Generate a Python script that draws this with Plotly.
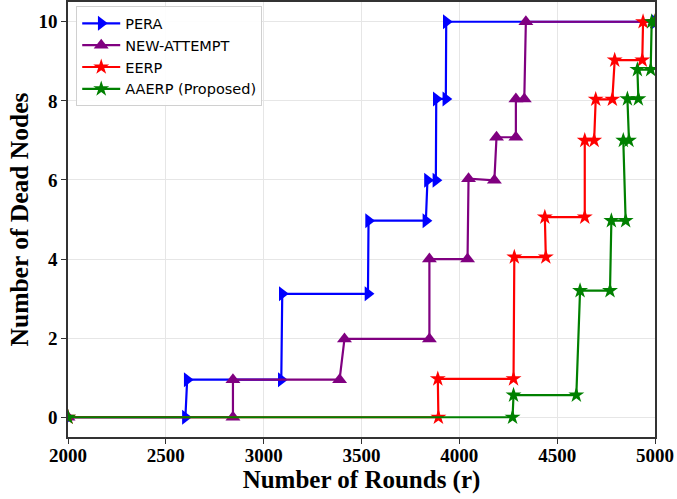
import plotly.graph_objects as go

pera_x = [2000, 2600, 2609, 3090, 3095, 3533, 3536, 3829, 3837, 3880, 3882, 3931, 3933, 5000]
pera_y = [0, 0, 0.95, 0.95, 3.12, 3.12, 4.97, 4.97, 5.99, 5.99, 8.05, 8.05, 10.0, 10.0]

new_x = [2000, 2843, 2843, 3388, 3413, 3847, 3847, 4042, 4047, 4179, 4190, 4289, 4289, 4332, 4340, 5000]
new_y = [0, 0, 0.95, 0.95, 1.98, 1.98, 4.0, 4.0, 6.03, 5.99, 7.08, 7.08, 8.05, 8.05, 10.0, 10.0]

eerp_x = [2000, 3893, 3890, 4277, 4281, 4442, 4437, 4641, 4641, 4689, 4697, 4782, 4794, 4935, 4939, 5000]
eerp_y = [0, 0, 0.97, 0.97, 4.05, 4.05, 5.06, 5.06, 7.0, 7.0, 8.04, 8.04, 9.03, 9.03, 10.0, 10.0]

aaerp_x = [2000, 4272, 4277, 4598, 4617, 4770, 4777, 4850, 4838, 4867, 4859, 4915, 4910, 4978, 4983, 5000]
aaerp_y = [0, 0, 0.56, 0.56, 3.2, 3.2, 4.97, 4.97, 7.0, 7.0, 8.05, 8.05, 8.79, 8.79, 10.0, 10.0]

x_ticks = [2000, 2500, 3000, 3500, 4000, 4500, 5000]
y_ticks = [0, 2, 4, 6, 8, 10]

fig = go.Figure()
series = [
    ("PERA", pera_x, pera_y, "#0000ff", "triangle-right", 13),
    ("NEW-ATTEMPT", new_x, new_y, "#800080", "triangle-up", 13),
    ("EERP", eerp_x, eerp_y, "#ff0000", "star", 12),
    ("AAERP (Proposed)", aaerp_x, aaerp_y, "#008000", "star", 12),
]
for name, xs, ys, col, sym, sz in series:
    fig.add_trace(go.Scatter(
        x=xs, y=ys, name=name, mode="lines+markers",
        line=dict(color=col, width=2.2),
        marker=dict(symbol=sym, size=sz, color=col),
    ))

axis_common = dict(
    showgrid=True, gridcolor="#e6e6e6", gridwidth=1,
    showline=True, linecolor="#333333", linewidth=1.5, mirror=True,
    ticks="outside", ticklen=5, tickcolor="#333333",
    tickfont=dict(family="Liberation Serif", size=19, color="black", weight="bold"),
    zeroline=False, automargin=False,
)

fig.update_layout(
    width=677, height=499,
    margin=dict(l=68, r=22, t=2, b=62),
    paper_bgcolor="white", plot_bgcolor="white",
    xaxis=dict(range=[2000, 5000], tickvals=x_ticks, ticklabelstandoff=-5,
               title=dict(text="Number of Rounds (r)", standoff=0,
                          font=dict(family="Liberation Serif", size=25, color="black", weight="bold")),
               **axis_common),
    yaxis=dict(range=[-0.5, 10.5], tickvals=y_ticks,
               title=dict(text="Number of Dead Nodes", standoff=3,
                          font=dict(family="Liberation Serif", size=25.5, color="black", weight="bold")),
               **axis_common),
    legend=dict(x=0.014, y=0.99, xanchor="left", yanchor="top",
                bgcolor="rgba(255,255,255,0.9)", bordercolor="#d0d0d0", borderwidth=1,
                font=dict(family="DejaVu Sans", size=14.5, color="black"),
                tracegroupgap=0, itemwidth=38),
    showlegend=True,
)

fig.write_html("out.html", config={"displayModeBar": False},
               post_script="document.body.style.margin='0';document.body.style.padding='0';")
